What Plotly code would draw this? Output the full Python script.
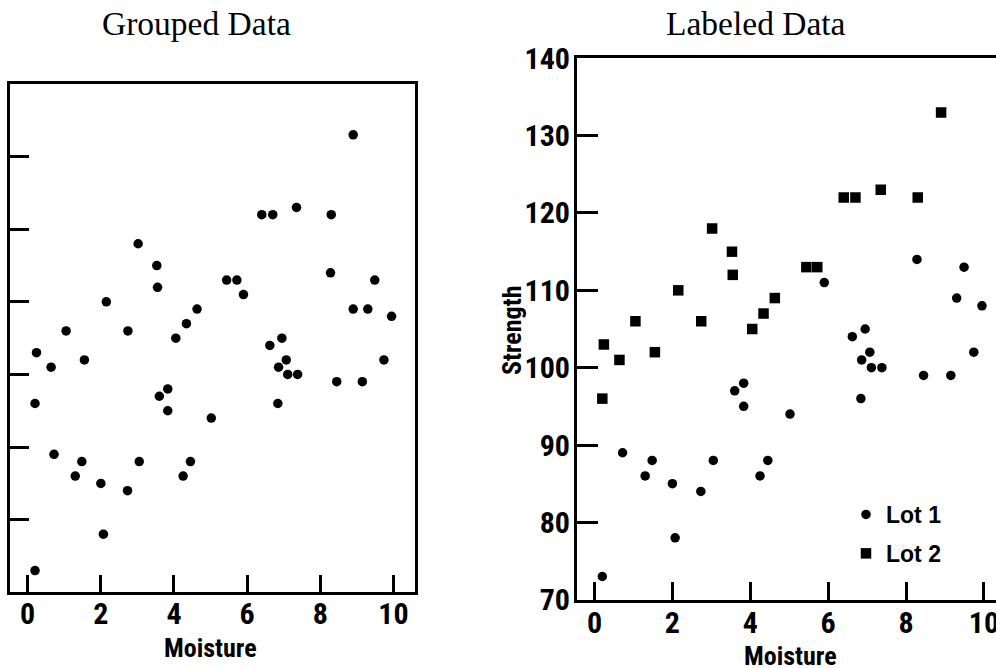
import plotly.graph_objects as go

# Strength vs. moisture for two lots of material
lot1_moisture = [0.20, 0.72, 1.30, 1.48, 2.00, 2.07, 2.73, 3.05, 3.60, 3.83,
                 3.83, 4.25, 4.45, 5.02, 5.90, 6.62, 6.84, 6.86, 6.95, 7.07,
                 7.11, 7.38, 8.28, 8.45, 9.15, 9.30, 9.49, 9.74, 9.95]
lot1_strength = [73, 89, 86, 88, 85, 78, 84, 88, 97, 98,
                 95, 86, 88, 94, 111, 104, 96, 101, 105, 102,
                 100, 100, 114, 99, 99, 109, 113, 102, 108]

lot2_moisture = [0.20, 0.24, 0.64, 1.05, 1.55, 2.15, 2.74, 3.02, 3.53, 3.55,
                 4.05, 4.34, 4.63, 5.44, 5.72, 6.40, 6.70, 7.35, 8.30, 8.90]
lot2_strength = [96, 103, 101, 106, 102, 110, 106, 118, 115, 112,
                 105, 107, 109, 113, 113, 122, 122, 123, 122, 133]

# one more observation that appears only in the pooled panel
pooled_extra_moisture = [8.90]
pooled_extra_strength = [109]

x_ticks = [0, 2, 4, 6, 8, 10]
left_y_ticks = [80, 90, 100, 110, 120, 130]
right_y_ticks = [70, 80, 90, 100, 110, 120, 130, 140]

panel_titles = ["Grouped Data", "Labeled Data"]
x_title = "Moisture"
y_title = "Strength"
lot_names = ["Lot 1", "Lot 2"]

W, H = 996, 668
NARROW = "Roboto Condensed, Liberation Sans Narrow, sans-serif"
SERIF = "Liberation Serif, Times New Roman, serif"


def px_x(p):
    return p / W


def px_y(p):
    return 1 - p / H


fig = go.Figure()

pooled_x = lot1_moisture + lot2_moisture + pooled_extra_moisture
pooled_y = lot1_strength + lot2_strength + pooled_extra_strength

fig.add_trace(go.Scatter(
    x=pooled_x, y=pooled_y, mode="markers", xaxis="x", yaxis="y",
    marker=dict(symbol="circle", size=9.5, color="black"),
    showlegend=False, hoverinfo="skip"))

fig.add_trace(go.Scatter(
    x=lot1_moisture, y=lot1_strength, mode="markers", xaxis="x2", yaxis="y2",
    name=lot_names[0], legendgroup="lot1",
    marker=dict(symbol="circle", size=9.5, color="black")))

fig.add_trace(go.Scatter(
    x=lot2_moisture, y=lot2_strength, mode="markers", xaxis="x2", yaxis="y2",
    name=lot_names[1], legendgroup="lot2",
    marker=dict(symbol="square", size=10.5, color="black")))

tick_font = dict(family=NARROW, size=30, color="black", weight="bold")

axis_common = dict(showgrid=False, zeroline=False, showline=True,
                   linecolor="black", ticks="inside", tickcolor="black",
                   fixedrange=True, automargin=False)

fig.update_layout(
    width=W, height=H,
    margin=dict(l=0, r=0, t=0, b=0, autoexpand=False),
    paper_bgcolor="white", plot_bgcolor="white",
    xaxis=dict(**axis_common, domain=[px_x(10), px_x(415)],
               range=[-0.484, 10.59], tickvals=x_ticks,
               ticklen=17, tickwidth=3, linewidth=3, mirror=True,
               tickfont=tick_font, ticklabelstandoff=-7, anchor="y"),
    yaxis=dict(**axis_common, domain=[px_y(592.3), px_y(84)],
               range=[70, 140], tickvals=left_y_ticks,
               ticklen=19, tickwidth=2.5, linewidth=3, mirror=True,
               showticklabels=False, anchor="x"),
    xaxis2=dict(**axis_common, domain=[px_x(577), 1],
                range=[-0.45, 10.31], tickvals=x_ticks,
                ticklen=18, tickwidth=3, linewidth=3, mirror=True,
                tickfont=tick_font, ticklabelstandoff=-6, anchor="y2",
                ticklabeloverflow="allow"),
    yaxis2=dict(**axis_common, domain=[px_y(599.7), px_y(58.3)],
                range=[70, 140], tickvals=right_y_ticks,
                ticklen=21, tickwidth=2.5, linewidth=3, mirror=False,
                tickfont=tick_font, ticklabelstandoff=-2, anchor="x2"),
    legend=dict(x=px_x(846), y=px_y(493), xanchor="left", yanchor="top",
                bgcolor="rgba(0,0,0,0)", borderwidth=0, tracegroupgap=6,
                font=dict(family="Liberation Sans, Arial, sans-serif",
                          size=23, color="black", weight="bold")),
)

annotations = [
    dict(text=panel_titles[0], x=px_x(196), y=px_y(24)),
    dict(text=panel_titles[1], x=px_x(756), y=px_y(24)),
]
for a in annotations:
    a.update(xref="paper", yref="paper", xanchor="center", yanchor="middle",
             showarrow=False, font=dict(family=SERIF, size=33.5, color="black"))

axis_labels = [
    dict(text=x_title, x=px_x(210), y=px_y(648)),
    dict(text=x_title, x=px_x(790), y=px_y(656)),
    dict(text=y_title, x=px_x(512), y=px_y(330), textangle=-90),
]
for a in axis_labels:
    a.update(xref="paper", yref="paper", xanchor="center", yanchor="middle",
             showarrow=False,
             font=dict(family=NARROW, size=26, color="black", weight="bold"))

fig.update_layout(annotations=annotations + axis_labels)

fig.write_html("out.html")
